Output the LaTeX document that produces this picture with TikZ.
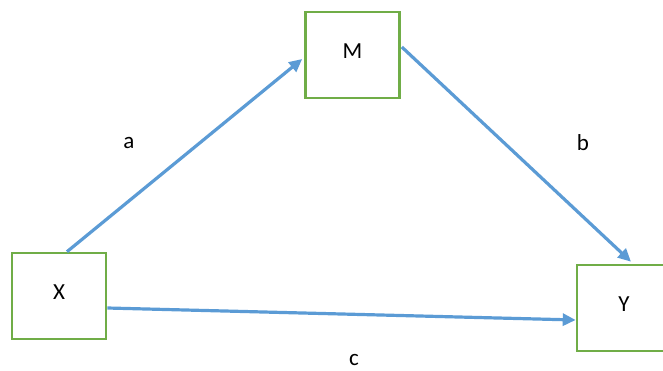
\documentclass[tikz,border=0pt]{standalone}
\usepackage{fontspec}
\setmainfont{Carlito}
\usetikzlibrary{arrows.meta,calc}
\definecolor{boxgreen}{RGB}{112,173,71}
\definecolor{arrowblue}{RGB}{91,155,213}
\begin{document}
\begin{tikzpicture}[x=1pt,y=-1pt,
  var/.style={draw=boxgreen,line width=2.6pt,minimum width=94pt,minimum height=86pt,inner sep=0pt,font=\fontsize{23}{27}\selectfont},
  path/.style={draw=arrowblue,line width=3.2pt,-{Triangle[length=13pt,width=12pt]}},
  lab/.style={font=\fontsize{23}{27}\selectfont,inner sep=0pt}]
\useasboundingbox (0,0) rectangle (663,371);
\node[var] (M) at (352.5,55) {\raisebox{8pt}{M}};
\node[var] (X) at (59,296) {\raisebox{8pt}{X}};
\node[var] (Y) at (624,308) {\raisebox{8pt}{Y}};
\draw[path] ($(X.north)+(8,0)$) -- ($(M.west)+(-2,4)$);
\draw[path] ($(M.east)+(1,-8)$) -- ($(Y.north)+(7,-2)$);
\draw[path] ($(X.east)+(0,12)$) -- ($(Y.west)+(0,12)$);
\node[lab] (a) at (129,143) {a};
\node[lab] (b) at (583,143) {b};
\node[lab] (c) at (354,360) {c};
\end{tikzpicture}
\end{document}
